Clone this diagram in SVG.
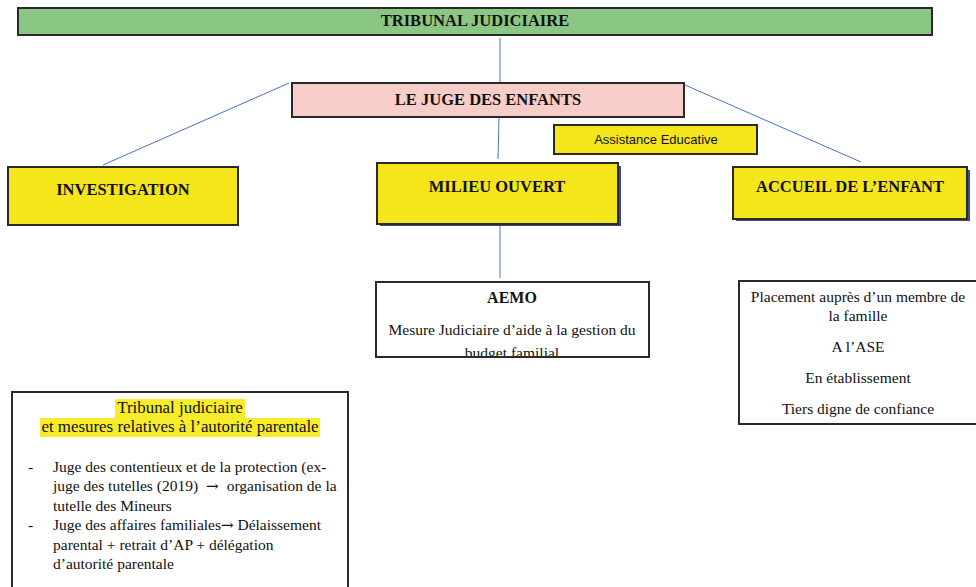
<svg xmlns="http://www.w3.org/2000/svg" width="976" height="587" viewBox="0 0 976 587">
<style>
.box{stroke:#2a2a2a;stroke-width:2}
.green{fill:#8bc784}
.pink{fill:#f6cdc8}
.yellow{fill:#f5e51b}
.white{fill:#ffffff}
.conn{stroke:#4a72c4;stroke-width:1;fill:none}
.shadow{fill:#3a4a8a}
.lbl{font-family:"Liberation Serif","Times New Roman",serif;font-weight:bold;font-size:16.5px;fill:#111;text-anchor:middle}
.sans{font-family:"Liberation Sans",Arial,sans-serif;font-size:13px;fill:#111;text-anchor:middle}
.txt{font-family:"Liberation Serif","Times New Roman",serif;font-size:15.5px;fill:#111}
.mid{text-anchor:middle}
.bold{font-weight:bold;font-size:16px}
.title{font-size:16.9px}
.hl{fill:#f7ec2a}
.arr{font-family:"DejaVu Serif",serif;font-size:15px}
</style>
<defs>
<clipPath id="aemoClip"><rect x="377" y="283" width="271" height="73"/></clipPath>
</defs>
<rect width="976" height="587" fill="#ffffff"/>
<g id="connectors">
<line class="conn" x1="500" y1="38" x2="500" y2="82"/>
<line class="conn" x1="289" y1="83" x2="103" y2="165"/>
<line class="conn" x1="685" y1="85" x2="861" y2="162"/>
<line class="conn" x1="499" y1="118" x2="498" y2="159"/>
<line class="conn" x1="500" y1="226" x2="500" y2="278"/>
</g>
<g id="tribunal">
<rect class="box green" x="18" y="8" width="914" height="27"/>
<text class="lbl" x="475" y="26">TRIBUNAL JUDICIAIRE</text>
</g>
<g id="juge">
<rect class="box pink" x="292" y="83" width="392" height="34"/>
<text class="lbl" x="488" y="105">LE JUGE DES ENFANTS</text>
</g>
<g id="assistance">
<rect class="box yellow" x="554" y="125" width="203" height="29"/>
<text class="sans" x="656" y="144">Assistance Educative</text>
</g>
<g id="investigation">
<rect class="box yellow" x="8" y="167" width="230" height="58"/>
<text class="lbl" x="123" y="195">INVESTIGATION</text>
</g>
<g id="milieu">
<rect class="shadow" x="380" y="166" width="241" height="60"/>
<rect class="box yellow" x="377" y="163" width="241" height="61"/>
<text class="lbl" x="497" y="192">MILIEU OUVERT</text>
</g>
<g id="accueil">
<rect class="shadow" x="736" y="170" width="234" height="51"/>
<rect class="box yellow" x="733" y="167" width="234" height="52"/>
<text class="lbl" x="850" y="192">ACCUEIL DE L’ENFANT</text>
</g>
<g id="aemo">
<rect class="box white" x="376" y="282" width="273" height="75"/>
<g clip-path="url(#aemoClip)">
<text class="txt mid bold" x="512" y="303">AEMO</text>
<text class="txt mid" x="512" y="335">Mesure Judiciaire d’aide à la gestion du</text>
<text class="txt mid" x="512" y="358">budget familial</text>
</g>
</g>
<g id="placement">
<rect class="box white" x="739" y="281" width="238" height="143"/>
<text class="txt mid" x="858" y="302">Placement auprès d’un membre de</text>
<text class="txt mid" x="858" y="321">la famille</text>
<text class="txt mid" x="858" y="352">A l’ASE</text>
<text class="txt mid" x="858" y="383">En établissement</text>
<text class="txt mid" x="858" y="414">Tiers digne de confiance</text>
</g>
<g id="mesures">
<path d="M12 590 V392 H348 V590" fill="#ffffff" stroke="#2a2a2a" stroke-width="2"/>
<rect class="hl" x="115" y="399" width="130" height="19"/>
<rect class="hl" x="40" y="418" width="280" height="19"/>
<text class="txt mid title" x="180" y="413">Tribunal judiciaire</text>
<text class="txt mid title" x="180" y="432">et mesures relatives à l’autorité parentale</text>
<text class="txt" x="28" y="472">-</text>
<text class="txt" x="53" y="472">Juge des contentieux et de la protection (ex-</text>
<text class="txt" x="53" y="491">juge des tutelles (2019)<tspan class="arr" dx="8">→</tspan><tspan dx="8">organisation de la</tspan></text>
<text class="txt" x="53" y="511">tutelle des Mineurs</text>
<text class="txt" x="28" y="530">-</text>
<text class="txt" x="53" y="530">Juge des affaires familiales<tspan class="arr">→</tspan> Délaissement</text>
<text class="txt" x="53" y="550">parental + retrait d’AP + délégation</text>
<text class="txt" x="53" y="569">d’autorité parentale</text>
</g>
</svg>
